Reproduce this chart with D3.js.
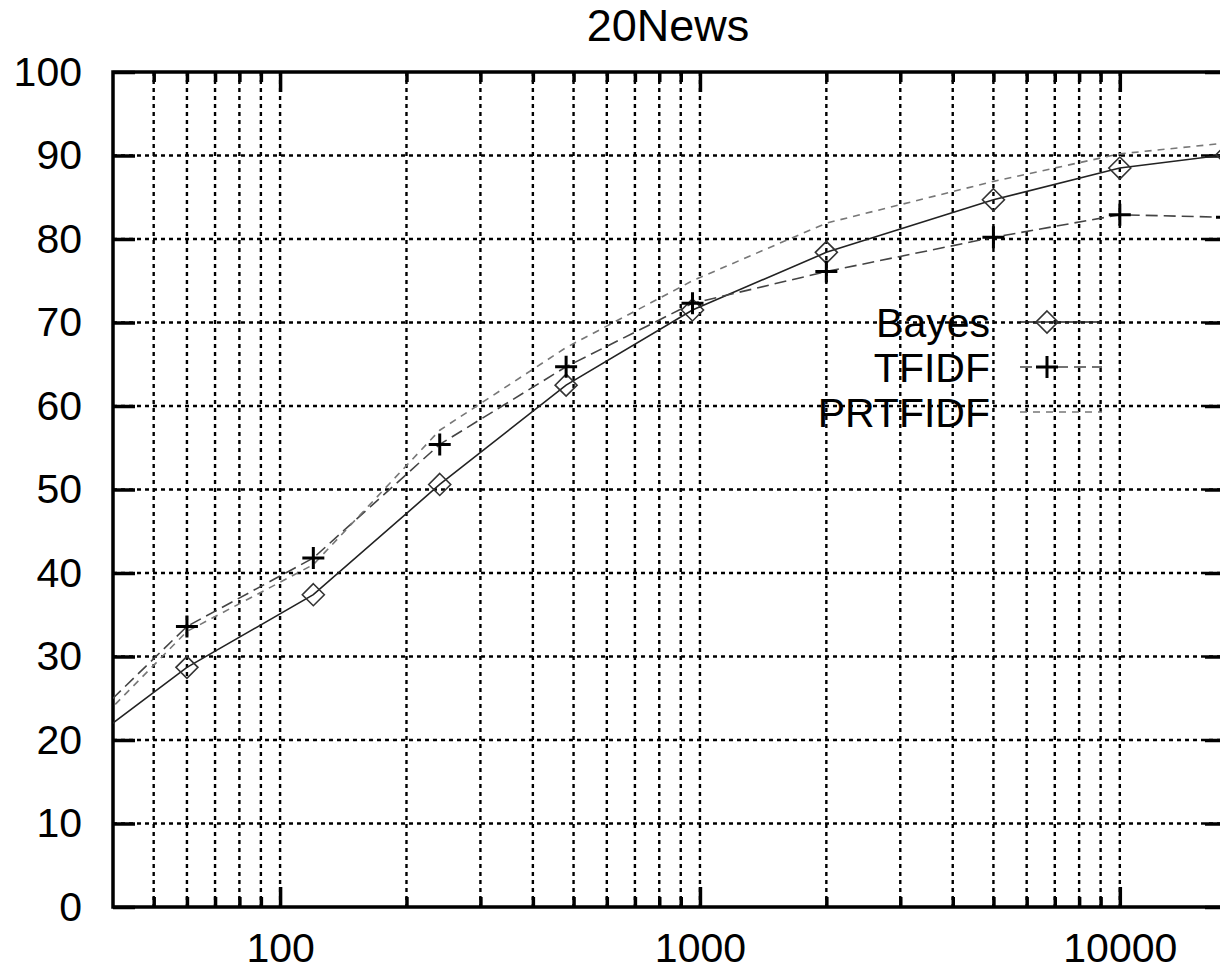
<!DOCTYPE html>
<html>
<head>
<meta charset="utf-8">
<script src="https://cdn.jsdelivr.net/npm/d3@7"></script>
<style>
  body { margin: 0; background: #fff; }
  svg { display: block; font-family: "Liberation Sans", Arial, Helvetica, sans-serif; }
</style>
</head>
<body>
<div id="chart"></div>
<script>
// training set sizes (log x axis) and accuracy per method
const sizes   = [30, 60, 120, 240, 480, 960, 2000, 5000, 10000, 18000];
const bayes   = [17.3, 28.7, 37.4, 50.6, 62.5, 71.5, 78.4, 84.7, 88.5, 90.1];
const tfidf   = [18.9, 33.6, 41.8, 55.4, 64.7, 72.3, 76.1, 80.2, 82.9, 82.6];
const prtfidf = [17.6, 33.0, 41.0, 57.1, 67.0, 75.0, 81.9, 86.9, 90.2, 91.5];

const seriesNames = ["Bayes", "TFIDF", "PRTFIDF"];
const yTicks = [0, 10, 20, 30, 40, 50, 60, 70, 80, 90, 100];
const xMajor = [100, 1000, 10000];
const xMinor = [50, 60, 70, 80, 90, 200, 300, 400, 500, 600, 700, 800, 900,
                2000, 3000, 4000, 5000, 6000, 7000, 8000, 9000];

const W = 1220, H = 972;
const plotL = 113, plotR = 1227, plotT = 72, plotB = 907;

const svg = d3.select("#chart").append("svg")
  .attr("width", W).attr("height", H);

const x = d3.scaleLog().domain([40, 18000]).range([plotL, plotR]);
const y = d3.scaleLinear().domain([0, 100]).range([plotB, plotT]);

// title
svg.append("text")
  .attr("x", 668).attr("y", 41)
  .attr("text-anchor", "middle")
  .attr("font-size", 45)
  .text("20News");

// grid
const grid = svg.append("g")
  .attr("stroke", "#000").attr("stroke-width", 2.4)
  .attr("stroke-dasharray", "4,4");
grid.selectAll(".gx").data(xMajor.concat(xMinor)).enter().append("line")
  .attr("x1", d => x(d)).attr("x2", d => x(d))
  .attr("y1", plotT).attr("y2", plotB);
grid.selectAll(".gy").data(yTicks.slice(1, -1)).enter().append("line")
  .attr("x1", plotL).attr("x2", plotR)
  .attr("y1", d => y(d)).attr("y2", d => y(d));

// axes (ticks pointing inward)
const styleAxis = g => {
  g.select(".domain").remove();
  g.selectAll(".tick line").attr("stroke-width", 3.5);
  g.selectAll("text").attr("font-size", 41).attr("fill", "#000")
    .attr("font-family", "Liberation Sans, Arial, sans-serif");
};

svg.append("g").attr("transform", `translate(0,${plotB})`)
  .call(d3.axisBottom(x).tickValues(xMinor).tickSize(-10).tickSizeOuter(0).tickFormat(""))
  .call(styleAxis);
svg.append("g").attr("transform", `translate(0,${plotB})`)
  .call(d3.axisBottom(x).tickValues(xMajor).tickSize(-20).tickSizeOuter(0)
    .tickPadding(26).tickFormat(d3.format("d")))
  .call(styleAxis);
svg.append("g").attr("transform", `translate(0,${plotT})`)
  .call(d3.axisTop(x).tickValues(xMinor).tickSize(-10).tickSizeOuter(0).tickFormat(""))
  .call(styleAxis);
svg.append("g").attr("transform", `translate(0,${plotT})`)
  .call(d3.axisTop(x).tickValues(xMajor).tickSize(-20).tickSizeOuter(0).tickFormat(""))
  .call(styleAxis);
svg.append("g").attr("transform", `translate(${plotL},0)`)
  .call(d3.axisLeft(y).tickValues(yTicks).tickSize(-22).tickSizeOuter(0).tickPadding(31))
  .call(styleAxis);
svg.append("g").attr("transform", `translate(${plotR},0)`)
  .call(d3.axisRight(y).tickValues(yTicks).tickSize(-22).tickSizeOuter(0).tickFormat(""))
  .call(styleAxis);

// frame
svg.append("rect")
  .attr("x", plotL).attr("y", plotT)
  .attr("width", plotR - plotL).attr("height", plotB - plotT)
  .attr("fill", "none").attr("stroke", "#000").attr("stroke-width", 3.5);

// clip for lines
svg.append("clipPath").attr("id", "plotclip")
  .append("rect").attr("x", plotL).attr("y", plotT)
  .attr("width", plotR - plotL).attr("height", plotB - plotT);

const styles = {
  Bayes:   { stroke: "#222", dash: null,   values: bayes },
  TFIDF:   { stroke: "#444", dash: "12,6", values: tfidf },
  PRTFIDF: { stroke: "#777", dash: "7,6",  values: prtfidf }
};

const line = d3.line().x(d => x(d[0])).y(d => y(d[1]));

seriesNames.forEach(name => {
  const s = styles[name];
  const pts = sizes.map((v, i) => [v, s.values[i]]);
  svg.append("path")
    .datum(pts)
    .attr("clip-path", "url(#plotclip)")
    .attr("fill", "none")
    .attr("stroke", s.stroke)
    .attr("stroke-width", 1.6)
    .attr("stroke-dasharray", s.dash)
    .attr("d", line);
});

const diamond = "M0,-11L11,0L0,11L-11,0Z";
const plus = "M-11,0H11M0,-11V11";

const visible = sizes.map((v, i) => i).filter(i => sizes[i] >= 40);

svg.append("g").selectAll("path").data(visible).enter().append("path")
  .attr("transform", i => `translate(${x(sizes[i])},${y(bayes[i])})`)
  .attr("d", diamond)
  .attr("fill", "none").attr("stroke", "#333").attr("stroke-width", 1.6);

svg.append("g").selectAll("path").data(visible).enter().append("path")
  .attr("transform", i => `translate(${x(sizes[i])},${y(tfidf[i])})`)
  .attr("d", plus)
  .attr("fill", "none").attr("stroke", "#000").attr("stroke-width", 3);

// legend
const legend = svg.append("g");
seriesNames.forEach((name, i) => {
  const s = styles[name];
  const ly = 322 + i * 45;
  legend.append("text")
    .attr("x", 990).attr("y", ly + 15)
    .attr("text-anchor", "end")
    .attr("font-size", 41)
    .text(name);
  legend.append("line")
    .attr("x1", 1020).attr("x2", 1102)
    .attr("y1", ly).attr("y2", ly)
    .attr("stroke", s.stroke).attr("stroke-width", 1.6)
    .attr("stroke-dasharray", s.dash);
  if (name === "Bayes") {
    legend.append("path").attr("transform", `translate(1047,${ly})`)
      .attr("d", diamond).attr("fill", "none")
      .attr("stroke", "#333").attr("stroke-width", 1.6);
  } else if (name === "TFIDF") {
    legend.append("path").attr("transform", `translate(1047,${ly})`)
      .attr("d", plus).attr("fill", "none")
      .attr("stroke", "#000").attr("stroke-width", 3);
  }
});
</script>
</body>
</html>
